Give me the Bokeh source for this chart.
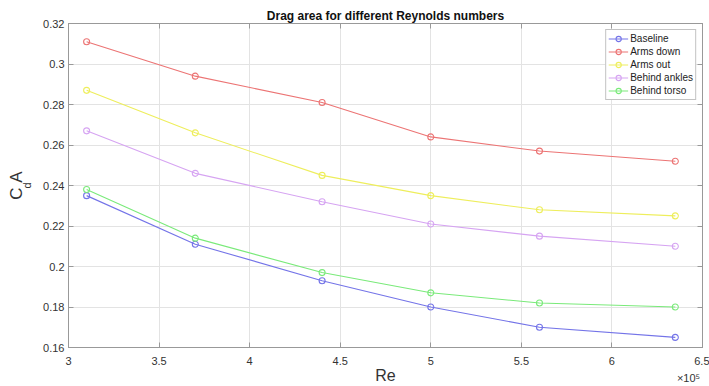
from bokeh.plotting import figure
from bokeh.models import Range1d, LinearAxis, FixedTicker, Legend, LegendItem
from bokeh.embed import file_html
from bokeh.resources import INLINE

# ---- data ----
re_e5 = [3.1, 3.7, 4.4, 5.0, 5.6, 6.35]
baseline = [0.235, 0.211, 0.193, 0.180, 0.170, 0.165]
arms_down = [0.311, 0.294, 0.281, 0.264, 0.257, 0.252]
arms_out = [0.287, 0.266, 0.245, 0.235, 0.228, 0.225]
behind_ankles = [0.267, 0.246, 0.232, 0.221, 0.215, 0.210]
behind_torso = [0.238, 0.214, 0.197, 0.187, 0.182, 0.180]
series_names = ["Baseline", "Arms down", "Arms out", "Behind ankles", "Behind torso"]
series_values = [baseline, arms_down, arms_out, behind_ankles, behind_torso]
series_colors = ["#7474e8", "#ec7474", "#eeee5c", "#d6a4f2", "#7aea7a"]

x_ticks = [3, 3.5, 4, 4.5, 5, 5.5, 6, 6.5]
x_tick_labels = ["3", "3.5", "4", "4.5", "5", "5.5", "6", "6.5"]
y_ticks = [0.16, 0.18, 0.20, 0.22, 0.24, 0.26, 0.28, 0.30, 0.32]
y_tick_labels = ["0.16", "0.18", "0.2", "0.22", "0.24", "0.26", "0.28", "0.3", "0.32"]

W, H = 709, 386
L, R, T, B = 68, 7, 23, 39
X0, X1 = 3.0, 6.5
Y0, Y1 = 0.16, 0.32
FONT = "Liberation Sans"
AX = "#999999"
TXT = "#333333"

p = figure(width=W, height=H, output_backend="svg", toolbar_location=None,
           x_range=Range1d(X0, X1), y_range=Range1d(Y0, Y1),
           min_border_left=L, min_border_right=R, min_border_top=T, min_border_bottom=B,
           background_fill_color="white", border_fill_color="white")
p.outline_line_color = AX
p.outline_line_width = 1

p.title.text = "Drag area for different Reynolds numbers"
p.title.align = "center"
p.title.text_font = FONT
p.title.text_font_style = "bold"
p.title.text_font_size = "12px"
p.title.text_color = "#111111"
p.title.standoff = 2

for ax in p.xaxis:
    ax.ticker = FixedTicker(ticks=x_ticks)
    ax.major_label_overrides = {t: s for t, s in zip(x_ticks, x_tick_labels)}
    ax.major_label_standoff = 9
for ax in p.yaxis:
    ax.ticker = FixedTicker(ticks=y_ticks)
    ax.major_label_overrides = {t: s for t, s in zip(y_ticks, y_tick_labels)}
    ax.major_label_standoff = 4
for ax in list(p.xaxis) + list(p.yaxis):
    ax.axis_line_color = AX
    ax.major_tick_line_color = AX
    ax.major_tick_in = 5
    ax.major_tick_out = 0
    ax.minor_tick_line_color = None
    ax.major_label_text_font = FONT
    ax.major_label_text_font_size = "11px"
    ax.major_label_text_color = TXT

def bare_axis(ticks):
    return LinearAxis(ticker=FixedTicker(ticks=ticks), major_label_text_font_size="0px",
                      major_label_text_color=None,
                      major_tick_in=5, major_tick_out=0, minor_tick_line_color=None,
                      axis_line_color=AX, major_tick_line_color=AX, major_label_standoff=0)

p.add_layout(bare_axis(x_ticks), "above")
p.add_layout(bare_axis(y_ticks), "right")

def text_axis(label, size, standoff):
    return LinearAxis(ticker=FixedTicker(ticks=[]), axis_line_color=None,
                      major_tick_line_color=None, minor_tick_line_color=None,
                      major_tick_out=0, major_tick_in=0, major_label_standoff=0,
                      axis_label=label, axis_label_text_font=FONT,
                      axis_label_text_font_size=size, axis_label_text_font_style="normal",
                      axis_label_text_color=TXT, axis_label_standoff=standoff)

# y label C_dA: subscript "d" (inner) and "C A" (outer)
p.add_layout(text_axis("d", "11px", 8), "left")
p.add_layout(text_axis("C\u00a0A", "17px", -8), "left")

# helpers: canvas pixel -> data coordinate (for text placement only)
fw = W - L - R
def dx(sx):
    return X0 + (sx - L) / fw * (X1 - X0)

# x label row: "Re" (centered) and exponent "×10⁵" (right)
exp_x = dx(688)
xlab = LinearAxis(ticker=FixedTicker(ticks=[exp_x]), axis_line_color=None,
                  major_tick_line_color=None, minor_tick_line_color=None,
                  major_tick_out=0, major_tick_in=0, major_label_standoff=4,
                  major_label_overrides={exp_x: "\u00d710\u2075"},
                  major_label_text_font=FONT, major_label_text_font_size="11px",
                  major_label_text_color=TXT,
                  axis_label="Re", axis_label_text_font=FONT, axis_label_text_font_size="16px",
                  axis_label_text_font_style="normal", axis_label_text_color=TXT,
                  axis_label_standoff=-20)
p.add_layout(xlab, "below")

p.xgrid.ticker = FixedTicker(ticks=x_ticks)
p.ygrid.ticker = FixedTicker(ticks=y_ticks)
p.grid.grid_line_color = "#e3e3e3"
p.grid.grid_line_width = 1

items = []
for name, vals, col in zip(series_names, series_values, series_colors):
    ln = p.line(re_e5, vals, line_color=col, line_width=1.1)
    sc = p.scatter(re_e5, vals, marker="circle", size=6, fill_color=None,
                   line_color=col, line_width=1.1)
    items.append(LegendItem(label=name, renderers=[ln, sc]))

leg = Legend(items=items, location="top_right")
leg.margin = 6
leg.padding = 2
leg.spacing = 0
leg.label_height = 13
leg.glyph_height = 13
leg.glyph_width = 20
leg.label_standoff = 2
leg.label_text_font = FONT
leg.label_text_font_size = "10px"
leg.label_text_color = "#222222"
leg.border_line_color = "#888888"
leg.background_fill_color = "white"
leg.background_fill_alpha = 1
p.add_layout(leg)

open("out.html", "w").write(file_html(p, INLINE))
